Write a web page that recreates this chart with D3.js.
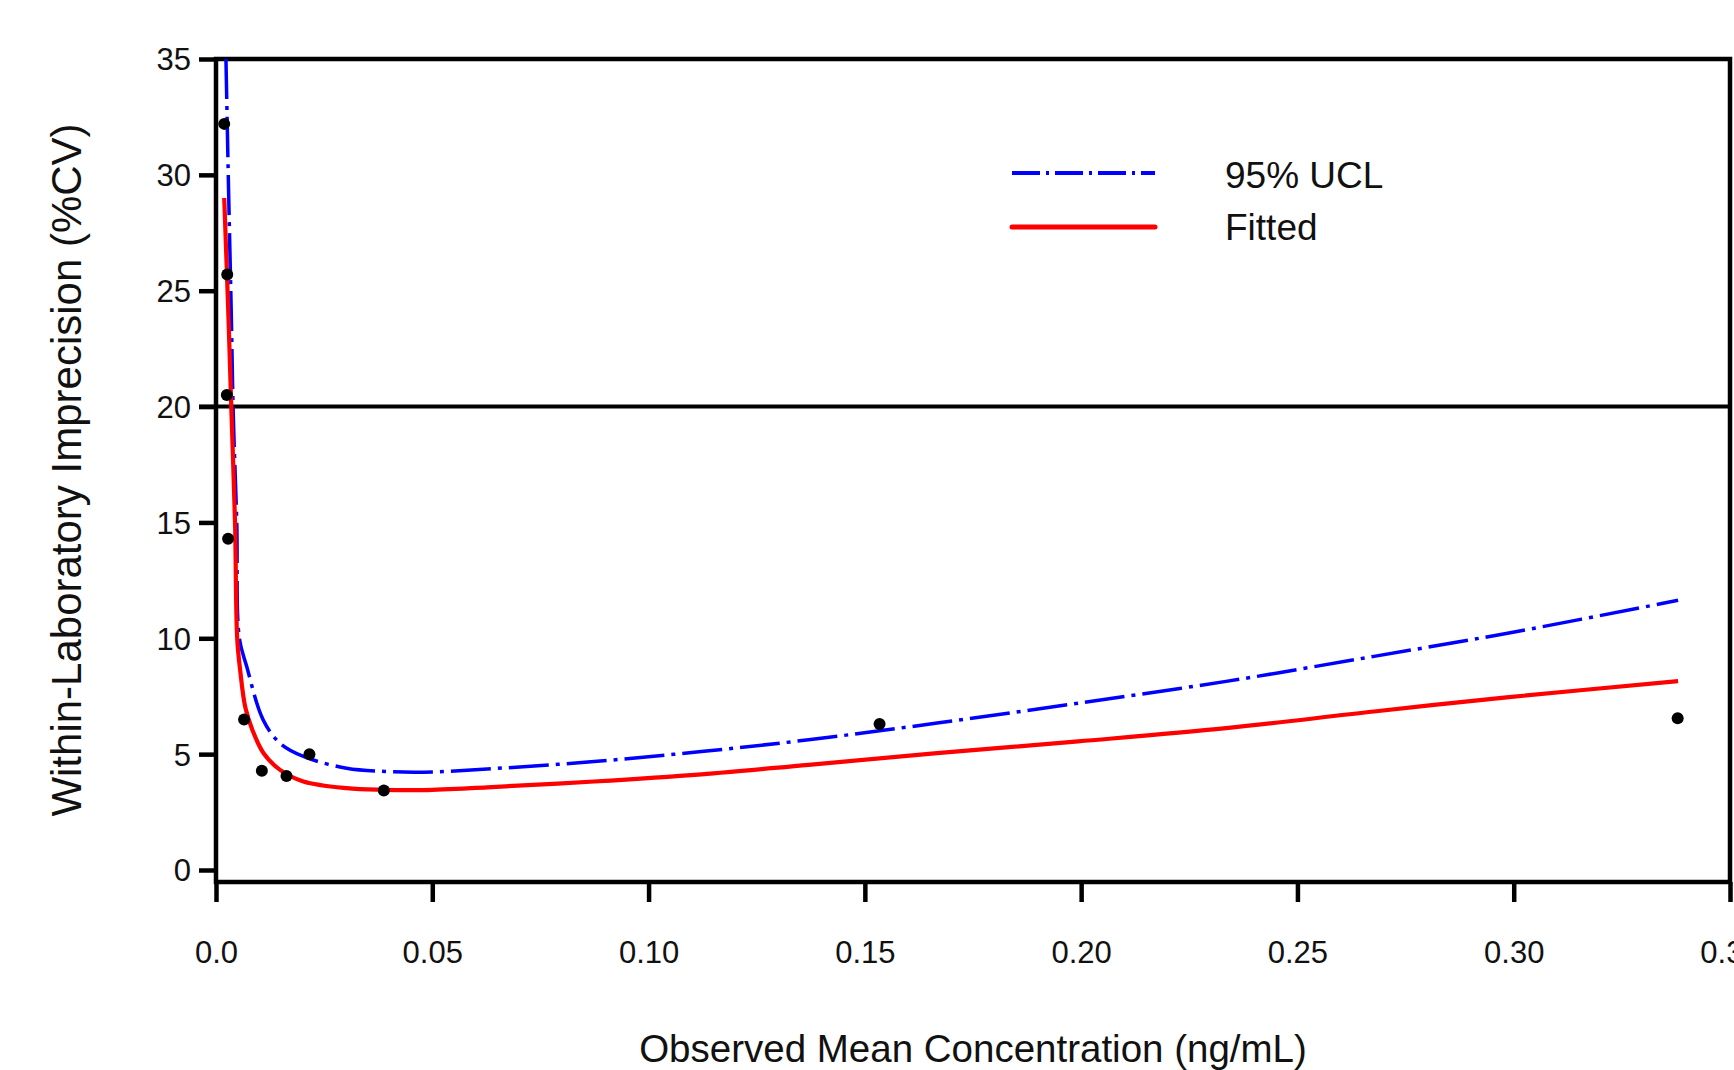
<!DOCTYPE html>
<html>
<head>
<meta charset="utf-8">
<script src="https://cdn.jsdelivr.net/npm/d3@7"></script>
<style>
  body { margin: 0; background: #fff; }
  text { font-family: "Liberation Sans", Arial, sans-serif; fill: #111; }
</style>
</head>
<body>
<svg id="chart" width="1734" height="1070"></svg>
<script>
// observed points (mean conc, %CV)
const obsConc = [0.0019, 0.0026, 0.0025, 0.0028, 0.0065, 0.0106, 0.0163, 0.0216, 0.0388, 0.1534, 0.3379];
const obsCV   = [32.2, 25.7, 20.5, 14.3, 6.5, 4.28, 4.06, 5.0, 3.43, 6.3, 6.55];

// fitted curve
const fitConc = [0.0019, 0.0028, 0.0036, 0.0044, 0.0049, 0.0056, 0.0068, 0.0085, 0.011, 0.0148, 0.0202, 0.0302,
                 0.0387, 0.048, 0.0627, 0.0874, 0.1122, 0.137, 0.1667, 0.1993, 0.2335, 0.2677, 0.2989, 0.338];
const fitCV   = [29.0, 24.3, 19.6, 15.0, 10.0, 8.6, 7.0, 6.0, 5.04, 4.32, 3.82, 3.53,
                 3.46, 3.45, 3.57, 3.82, 4.13, 4.54, 5.04, 5.55, 6.12, 6.84, 7.46, 8.15];

// 95% upper confidence limit
const uclConc = [0.0023, 0.0029, 0.0035, 0.004, 0.0048, 0.0054, 0.0071, 0.0109, 0.0148, 0.0202, 0.0302, 0.0392,
                 0.048, 0.0627, 0.0874, 0.1122, 0.137, 0.1667, 0.1993, 0.2335, 0.2677, 0.2989, 0.338];
const uclCV   = [35.0, 29.4, 24.3, 19.6, 15.0, 10.0, 8.78, 6.48, 5.47, 4.9, 4.39, 4.25,
                 4.22, 4.36, 4.68, 5.11, 5.62, 6.34, 7.2, 8.14, 9.22, 10.23, 11.64];

const xTicks = [0, 0.05, 0.10, 0.15, 0.20, 0.25, 0.30, 0.35];
const yTicks = [0, 5, 10, 15, 20, 25, 30, 35];
const refCV = 20;
const legendLabels = ["95% UCL", "Fitted"];

const svg = d3.select("#chart");
const plotL = 216, plotR = 1730, plotT = 59, zeroY = 870, plotB = 882;

const x = d3.scaleLinear().domain([0, 0.35]).range([plotL, plotR]);
const y = d3.scaleLinear().domain([0, 35]).range([zeroY, plotT]);

// y axis ticks
const gy = svg.append("g")
    .attr("transform", "translate(" + plotL + ",0)")
    .call(d3.axisLeft(y).tickValues(yTicks).tickSize(17).tickPadding(8));
gy.select(".domain").remove();
gy.selectAll("line").attr("stroke", "#000").attr("stroke-width", 4.5);
gy.selectAll("text").style("font-size", "31px").attr("dy", "0.35em");

// x axis ticks
const gx = svg.append("g")
    .attr("transform", "translate(0," + plotB + ")")
    .call(d3.axisBottom(x).tickValues(xTicks).tickSize(20)
        .tickFormat(d => d === 0 ? "0.0" : d3.format(".2f")(d)));
gx.select(".domain").remove();
gx.selectAll("line").attr("stroke", "#000").attr("stroke-width", 4.5);
gx.selectAll("text").style("font-size", "31px").attr("y", 81).attr("dy", 0);

// frame
svg.append("rect")
    .attr("x", plotL).attr("y", plotT)
    .attr("width", plotR - plotL).attr("height", plotB - plotT)
    .attr("fill", "none").attr("stroke", "#000").attr("stroke-width", 4.5);

// 20% line
svg.append("line")
    .attr("x1", plotL - 17).attr("x2", plotR)
    .attr("y1", y(refCV)).attr("y2", y(refCV))
    .attr("stroke", "#000").attr("stroke-width", 4);

const line = d3.line()
    .x(d => x(d[0])).y(d => y(d[1]))
    .curve(d3.curveCatmullRom.alpha(0.5));

svg.append("path")
    .datum(d3.zip(uclConc, uclCV))
    .attr("d", line)
    .attr("fill", "none").attr("stroke", "#0000ff").attr("stroke-width", 3.5)
    .attr("stroke-dasharray", "40,7,4,7");

svg.append("path")
    .datum(d3.zip(fitConc, fitCV))
    .attr("d", line)
    .attr("fill", "none").attr("stroke", "#ff0000").attr("stroke-width", 4.2);

svg.selectAll(".dot")
    .data(d3.zip(obsConc, obsCV))
    .enter().append("circle")
    .attr("class", "dot")
    .attr("cx", d => x(d[0])).attr("cy", d => y(d[1]))
    .attr("r", 6).attr("fill", "#000");

// legend
const legend = svg.append("g");
legend.append("line")
    .attr("x1", 1012).attr("x2", 1155).attr("y1", 173).attr("y2", 173)
    .attr("stroke", "#0000ff").attr("stroke-width", 4)
    .attr("stroke-dasharray", "28,6,3,6");
legend.append("line")
    .attr("x1", 1012).attr("x2", 1155).attr("y1", 227).attr("y2", 227)
    .attr("stroke", "#ff0000").attr("stroke-width", 5).attr("stroke-linecap", "round");
legend.selectAll(".lbl")
    .data(legendLabels)
    .enter().append("text")
    .attr("x", 1225).attr("y", (d, i) => 188 + i * 52)
    .style("font-size", "37px")
    .text(d => d);

// axis titles
svg.append("text")
    .attr("x", (plotL + plotR) / 2).attr("y", 1062)
    .attr("text-anchor", "middle")
    .style("font-size", "38.5px")
    .text("Observed Mean Concentration (ng/mL)");

svg.append("text")
    .attr("transform", "translate(81,470) rotate(-90)")
    .attr("text-anchor", "middle")
    .style("font-size", "42px")
    .text("Within-Laboratory Imprecision (%CV)");
</script>
</body>
</html>
